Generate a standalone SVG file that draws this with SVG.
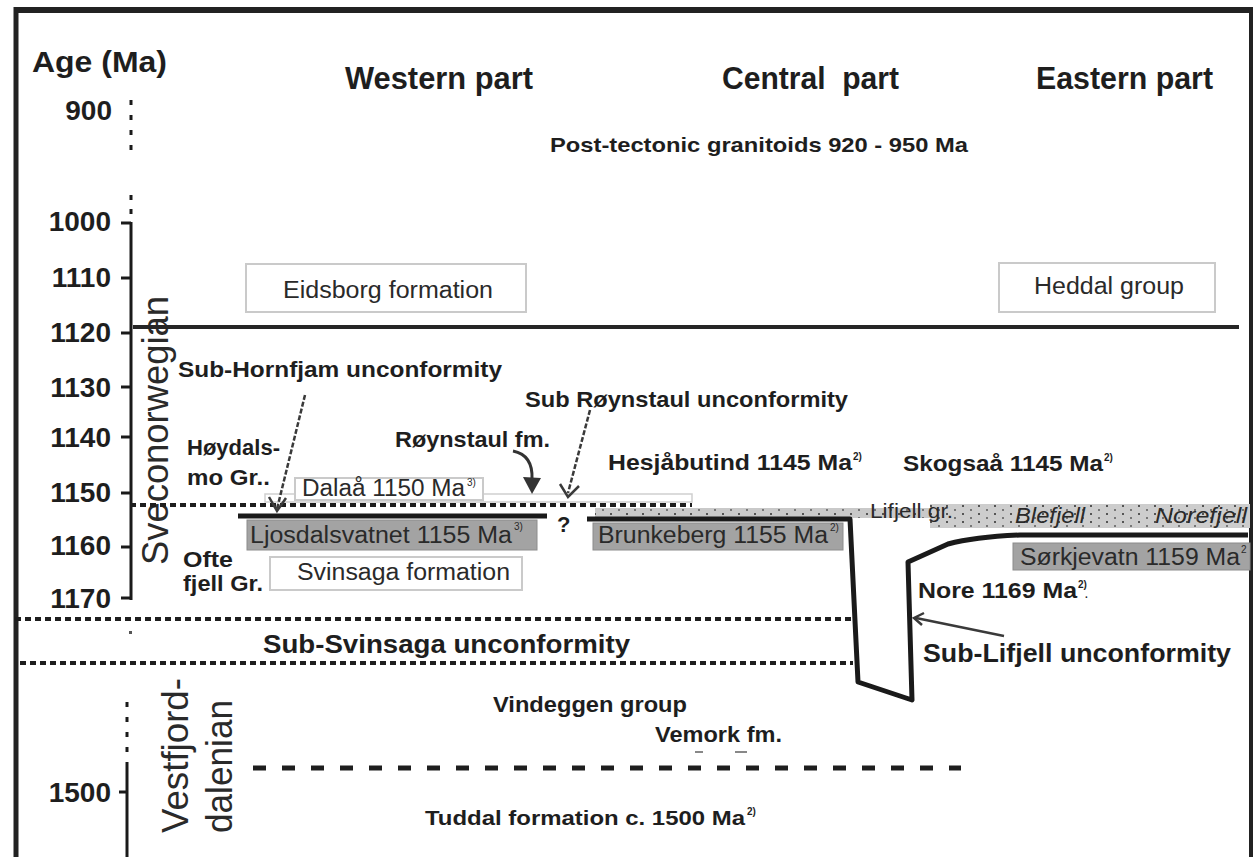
<svg xmlns="http://www.w3.org/2000/svg" width="1256" height="857" viewBox="0 0 1256 857">
<defs>
<style>
.b{font-family:"Liberation Sans",Arial,sans-serif;font-weight:bold;fill:#1e1e1e}
.r{font-family:"Liberation Sans",Arial,sans-serif;fill:#2a2a2a}
.it{font-style:italic}
.tick{font-size:28px;text-anchor:end}
.hd{font-size:31px}
.lb{font-size:22px}
.rl{font-size:23px}
.sup{font-size:10px}
.wbox{fill:#fff;stroke:#cacaca;stroke-width:2}
.gbox{fill:#a3a3a3;stroke:#8c8c8c;stroke-width:1}
.dot{fill:none;stroke:#1e1e1e;stroke-width:4;stroke-dasharray:6 4}
.thick{fill:none;stroke:#1a1a1a;stroke-width:5;stroke-linejoin:round}
.axis{stroke:#1a1a1a;stroke-width:3;fill:none}
.arr{fill:none;stroke:#3a3a3a;stroke-width:2.5}
</style>
<pattern id="dots" width="16" height="8" patternUnits="userSpaceOnUse">
<rect x="2" y="1" width="2" height="2" fill="#555"/>
<rect x="10" y="5" width="2" height="2" fill="#777"/>
</pattern>
</defs>

<g id="frame">
<line x1="14" y1="10" x2="1253" y2="10" stroke="#222" stroke-width="6"/>
<line x1="16" y1="7" x2="16" y2="857" stroke="#222" stroke-width="5"/>
<line x1="1251" y1="7" x2="1251" y2="857" stroke="#222" stroke-width="4"/>
</g>

<g id="axis">
<text class="b" font-size="30" x="32" y="72" textLength="135" lengthAdjust="spacingAndGlyphs">Age (Ma)</text>
<line class="axis" x1="131" y1="100" x2="131" y2="152" stroke-width="4" stroke-dasharray="5 10"/>
<line class="axis" x1="131" y1="195" x2="131" y2="215" stroke-width="4" stroke-dasharray="5 9"/>
<line class="axis" x1="131" y1="222" x2="131" y2="600"/>
<g class="axis">
<line x1="121" y1="223" x2="131" y2="223"/>
<line x1="121" y1="278" x2="131" y2="278"/>
<line x1="121" y1="333" x2="131" y2="333"/>
<line x1="121" y1="387" x2="131" y2="387"/>
<line x1="121" y1="437" x2="131" y2="437"/>
<line x1="121" y1="493" x2="131" y2="493"/>
<line x1="121" y1="547" x2="131" y2="547"/>
<line x1="121" y1="598" x2="131" y2="598"/>
<line x1="119" y1="792" x2="127" y2="792"/>
</g>
<rect x="129" y="631" width="3" height="3" fill="#555"/>
<line class="axis" x1="127" y1="702" x2="127" y2="755" stroke-width="4" stroke-dasharray="5 10"/>
<line class="axis" x1="127" y1="762" x2="127" y2="857" stroke-width="4"/>
<g class="b tick">
<text x="112" y="120">900</text>
<text x="111" y="231">1000</text>
<text x="111" y="287">1110</text>
<text x="111" y="342">1120</text>
<text x="111" y="397">1130</text>
<text x="111" y="447">1140</text>
<text x="111" y="502">1150</text>
<text x="111" y="555">1160</text>
<text x="111" y="608">1170</text>
<text x="111" y="802">1500</text>
</g>
<text class="r" font-size="36" transform="translate(168,565) rotate(-90)" textLength="269" lengthAdjust="spacingAndGlyphs">Sveconorwegian</text>
<text class="r" font-size="36" transform="translate(188,833) rotate(-90)" textLength="155" lengthAdjust="spacingAndGlyphs">Vestfjord-</text>
<text class="r" font-size="36" transform="translate(232,833) rotate(-90)" textLength="133" lengthAdjust="spacingAndGlyphs">dalenian</text>
</g>

<g id="headers">
<text class="b hd" x="345" y="89" textLength="188" lengthAdjust="spacingAndGlyphs">Western part</text>
<text class="b hd" x="722" y="89" textLength="177" lengthAdjust="spacingAndGlyphs">Central&#160; part</text>
<text class="b hd" x="1036" y="89" textLength="177" lengthAdjust="spacingAndGlyphs">Eastern part</text>
</g>

<g id="post-tectonic">
<text class="b" font-size="21" x="550" y="152" textLength="418" lengthAdjust="spacingAndGlyphs">Post-tectonic granitoids 920 - 950 Ma</text>
</g>

<g id="eidsborg">
<rect class="wbox" x="246" y="264" width="280" height="48"/>
<text class="r rl" x="283" y="298" textLength="210" lengthAdjust="spacingAndGlyphs">Eidsborg formation</text>
</g>

<g id="heddal">
<rect class="wbox" x="999" y="263" width="216" height="49"/>
<text class="r rl" x="1034" y="294" textLength="150" lengthAdjust="spacingAndGlyphs">Heddal group</text>
</g>

<g id="lifjell">
<rect x="595" y="508" width="345" height="10" fill="#c9c9c9"/>
<rect x="930" y="504" width="320" height="24" fill="#cdcdcd"/>
<rect x="595" y="508" width="345" height="10" fill="url(#dots)"/>
<rect x="930" y="504" width="320" height="24" fill="url(#dots)"/>
<text class="r" font-size="20" x="870" y="518" fill="#222" textLength="83" lengthAdjust="spacingAndGlyphs">Lifjell gr.</text>
<text class="r it" font-size="22" x="1015" y="523" textLength="70" lengthAdjust="spacingAndGlyphs">Blefjell</text>
<text class="r it" font-size="22" x="1155" y="523" textLength="92" lengthAdjust="spacingAndGlyphs">Norefjell</text>
</g>

<g id="connectors">
<line x1="133" y1="327" x2="1239" y2="327" stroke="#262626" stroke-width="4"/>
<rect x="265" y="494" width="427" height="8" fill="#fff" stroke="#cfcfcf" stroke-width="1.5"/>
<line class="dot" x1="130" y1="505" x2="692" y2="505"/>
<line class="thick" x1="238" y1="516" x2="547" y2="516"/>
<path class="thick" d="M587 519 L850 519 L858 682 L912 700 L908 562 L948 544 Q975 537 1020 535 L1248 535"/>
<line class="dot" x1="15" y1="619" x2="852" y2="619"/>
<line class="dot" x1="20" y1="663" x2="853" y2="663"/>
<line x1="253" y1="768" x2="961" y2="768" stroke="#1e1e1e" stroke-width="5" stroke-dasharray="13 16"/>
<line x1="695" y1="752" x2="703" y2="752" stroke="#888" stroke-width="2"/>
<line x1="735" y1="752" x2="747" y2="752" stroke="#888" stroke-width="2"/>
<line class="arr" x1="305" y1="395" x2="277" y2="509" stroke-dasharray="5 2"/>
<polyline class="arr" points="269,497 277,511 286,498"/>
<line class="arr" x1="590" y1="410" x2="568" y2="493" stroke-dasharray="5 2"/>
<polyline class="arr" points="560,484 568,497 579,486"/>
<path d="M513 451 Q533 455 532 479" fill="none" stroke="#333" stroke-width="3"/>
<polygon points="523,477 541,478 532,494" fill="#333"/>
<line class="arr" x1="1004" y1="636" x2="916" y2="618"/>
<polyline class="arr" points="924,613 914,618 922,625"/>
</g>

<g id="dalaa">
<rect class="wbox" x="295" y="478" width="188" height="22" stroke-width="1.5"/>
<text class="r rl" x="302" y="496" textLength="163" lengthAdjust="spacingAndGlyphs">Dalaå 1150 Ma</text>
<text class="r sup" x="467" y="486">3)</text>
</g>

<g id="ljosdalsvatnet">
<rect class="gbox" x="247" y="520" width="290" height="30"/>
<text class="r rl" x="250" y="543" fill="#333" textLength="262" lengthAdjust="spacingAndGlyphs">Ljosdalsvatnet 1155 Ma</text>
<text class="r sup" x="514" y="530">3)</text>
</g>

<g id="brunkeberg">
<rect class="gbox" x="593" y="523" width="250" height="27"/>
<text class="r rl" x="598" y="543" textLength="230" lengthAdjust="spacingAndGlyphs">Brunkeberg 1155 Ma</text>
<text class="r sup" x="830" y="531" fill="#777">2)</text>
</g>

<g id="sorkjevatn">
<rect class="gbox" x="1013" y="543" width="237" height="27"/>
<text class="r rl" x="1020" y="565" textLength="220" lengthAdjust="spacingAndGlyphs">Sørkjevatn 1159 Ma</text>
<text class="r sup" x="1241" y="553">2</text>
</g>

<g id="svinsaga">
<rect class="wbox" x="270" y="557" width="252" height="33"/>
<text class="r rl" x="297" y="580" textLength="213" lengthAdjust="spacingAndGlyphs">Svinsaga formation</text>
</g>

<g id="sub-hornfjam">
<text class="b lb" x="178" y="377" textLength="324" lengthAdjust="spacingAndGlyphs">Sub-Hornfjam unconformity</text>
</g>

<g id="sub-roynstaul">
<text class="b lb" x="525" y="407" textLength="323" lengthAdjust="spacingAndGlyphs">Sub Røynstaul unconformity</text>
</g>

<g id="roynstaul">
<text class="b lb" x="395" y="447" textLength="155" lengthAdjust="spacingAndGlyphs">Røynstaul fm.</text>
</g>

<g id="hoydalsmo">
<text class="b lb" x="187" y="455" textLength="93" lengthAdjust="spacingAndGlyphs">Høydals-</text>
<text class="b lb" x="187" y="485" textLength="83" lengthAdjust="spacingAndGlyphs">mo Gr..</text>
</g>

<g id="oftefjell">
<text class="b lb" x="183" y="567" textLength="50" lengthAdjust="spacingAndGlyphs">Ofte</text>
<text class="b lb" x="183" y="591" textLength="80" lengthAdjust="spacingAndGlyphs">fjell Gr.</text>
</g>

<g id="question">
<text class="b" font-size="22" x="557" y="532" fill="#555">?</text>
</g>

<g id="hesjabutind">
<text class="b lb" x="608" y="470" textLength="244" lengthAdjust="spacingAndGlyphs">Hesjåbutind 1145 Ma</text>
<text class="b sup" x="853" y="460">2)</text>
</g>

<g id="skogsaa">
<text class="b lb" x="903" y="471" textLength="200" lengthAdjust="spacingAndGlyphs">Skogsaå 1145 Ma</text>
<text class="b sup" x="1104" y="461">2)</text>
</g>

<g id="nore">
<text class="b lb" x="918" y="598" textLength="159" lengthAdjust="spacingAndGlyphs">Nore 1169 Ma</text>
<text class="b sup" x="1078" y="588">2)</text>
<text class="b sup" x="1085" y="598">.</text>
</g>

<g id="sub-svinsaga">
<text class="b" font-size="25" x="263" y="653" textLength="367" lengthAdjust="spacingAndGlyphs">Sub-Svinsaga unconformity</text>
</g>

<g id="sub-lifjell">
<text class="b" font-size="26" x="923" y="662" textLength="308" lengthAdjust="spacingAndGlyphs">Sub-Lifjell unconformity</text>
</g>

<g id="vindeggen">
<text class="b lb" x="493" y="712" textLength="194" lengthAdjust="spacingAndGlyphs">Vindeggen group</text>
</g>

<g id="vemork">
<text class="b lb" x="655" y="742" textLength="127" lengthAdjust="spacingAndGlyphs">Vemork fm.</text>
</g>

<g id="tuddal">
<text class="b" font-size="20" x="425" y="825" textLength="320" lengthAdjust="spacingAndGlyphs">Tuddal formation c. 1500 Ma</text>
<text class="b sup" x="747" y="815">2)</text>
</g>
</svg>
